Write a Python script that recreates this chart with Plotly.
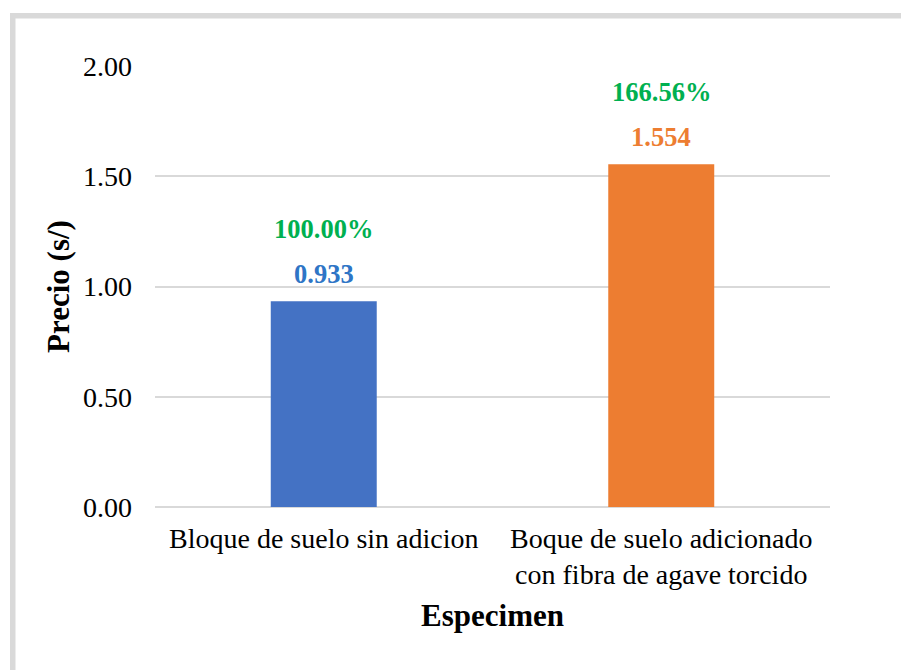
import plotly.graph_objects as go

# Chart data
categories = ["Bloque de suelo sin adicion",
              "Boque de suelo adicionado<br>con fibra de agave torcido"]
prices = [0.933, 1.554]
price_labels = ["0.933", "1.554"]
percent_labels = ["100.00%", "166.56%"]
bar_colors = ["#4472C4", "#ED7D31"]
value_colors = ["#2E75C6", "#ED7D31"]
percent_color = "#00B050"
y_ticks = [0.0, 0.5, 1.0, 1.5, 2.0]

FONT = "Liberation Serif, Times New Roman, serif"
W, H = 901, 670
L, R, T, B = 155, 71, 66, 163

fig = go.Figure(go.Bar(
    x=categories, y=prices,
    marker=dict(color=bar_colors, line=dict(width=0)),
    width=0.314,
    hoverinfo="skip",
))

# Value and percentage labels above each bar
for cat, val, vlab, plab, vcol in zip(categories, prices, price_labels,
                                      percent_labels, value_colors):
    fig.add_annotation(x=cat, y=val, text=f"<b>{vlab}</b>", showarrow=False,
                       yanchor="middle", yshift=27,
                       font=dict(family=FONT, size=26.5, color=vcol))
    fig.add_annotation(x=cat, y=val, text=f"<b>{plab}</b>", showarrow=False,
                       yanchor="middle", yshift=72,
                       font=dict(family=FONT, size=26.5, color=percent_color))

# Chart-area frame (top and left edges)
pw, ph = W - L - R, H - T - B
def px(x):
    return (x - L) / pw
def py(y):
    return (H - B - y) / ph

frame = "#D9D9D9"
fig.add_shape(type="rect", xref="paper", yref="paper",
              x0=px(10), x1=px(W + 5), y0=py(13), y1=py(18.5),
              fillcolor=frame, line=dict(width=0), layer="below")
fig.add_shape(type="rect", xref="paper", yref="paper",
              x0=px(10), x1=px(15.5), y0=py(13), y1=py(H + 5),
              fillcolor=frame, line=dict(width=0), layer="below")

fig.update_layout(
    width=W, height=H,
    margin=dict(l=L, r=R, t=T, b=B, pad=0),
    paper_bgcolor="white", plot_bgcolor="white",
    showlegend=False,
    font=dict(family=FONT, size=28, color="black"),
    xaxis=dict(
        showgrid=False, showline=False, ticks="", ticklabelstandoff=12,
        tickfont=dict(family=FONT, size=28, color="black"),
        title=dict(text="<b>Especimen</b>", standoff=14,
                   font=dict(family=FONT, size=31, color="black")),
    ),
    yaxis=dict(
        range=[0, 2.0], tickvals=y_ticks, tickformat=".2f",
        showgrid=True, gridcolor="#D9D9D9", gridwidth=1.5,
        zeroline=True, zerolinecolor="#D9D9D9", zerolinewidth=1.5,
        showline=False, ticks="", ticklabelstandoff=22,
        tickfont=dict(family=FONT, size=28, color="black"),
        title=dict(text="<b>Precio (s/)</b>", standoff=4,
                   font=dict(family=FONT, size=31, color="black")),
    ),
)

fig.write_html("out.html")
